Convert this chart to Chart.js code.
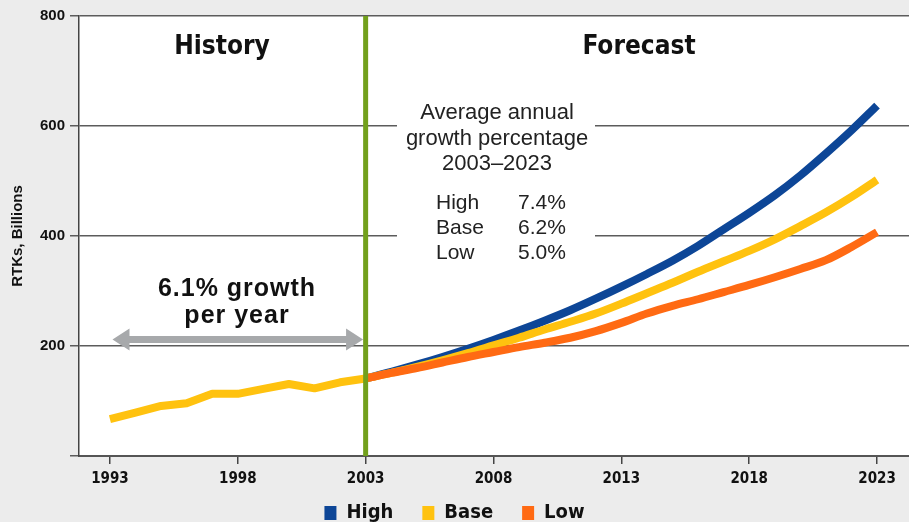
<!DOCTYPE html>
<html>
<head>
<meta charset="utf-8">
<script src="https://cdn.jsdelivr.net/npm/chart.js@4.4.1/dist/chart.umd.min.js"></script>
<style>
  html, body { margin: 0; padding: 0; background: #ececec; overflow: hidden; }
  canvas { display: block; }
</style>
</head>
<body>
<canvas id="myChart" width="909" height="533"></canvas>
<script>
// history 1993-2003, forecast 2003-2023 (RTKs, billions)
var historyYears = [1993, 1994, 1995, 1996, 1997, 1998, 1999, 2000, 2001, 2002, 2003];
var historyValues = [67, 79, 91, 96, 113, 113, 122, 131, 123, 134, 141];

var forecastYears = [2003, 2004, 2005, 2006, 2007, 2008, 2009, 2010, 2011, 2012, 2013,
	2014, 2015, 2016, 2017, 2018, 2019, 2020, 2021, 2022, 2023];
var highValues = [141, 153, 166, 180, 195, 211, 228, 246, 265, 286, 308, 331, 355, 382, 412, 442, 474, 510, 550, 592, 637];
var baseValues = [141, 151, 162, 174, 187, 201, 215, 230, 244, 259, 277, 296, 315, 335, 354, 373, 394, 418, 443, 471, 502];
var lowValues = [141, 151, 160, 170, 180, 189, 198, 206, 215, 227, 242, 259, 273, 285, 298, 311, 325, 340, 356, 380, 407];

var xTicks = [1993, 1998, 2003, 2008, 2013, 2018, 2023];
var yTicks = [0, 200, 400, 600, 800];

var growthRows = [["High", "7.4%"], ["Base", "6.2%"], ["Low", "5.0%"]];

var blue = '#0d4697';
var yellow = '#ffc20f';
var orange = '#ff6a13';
var narrow = '"Liberation Sans Narrow", "DejaVu Sans Condensed", sans-serif';
var sans = '"Liberation Sans", Arial, sans-serif';

function pts(xs, ys) {
	return xs.map(function (x, i) { return { x: x, y: ys[i] }; });
}

var annotate = {
	id: 'annotate',
	beforeDraw: function (chart) {
		var ctx = chart.ctx, a = chart.chartArea;
		ctx.save();
		ctx.fillStyle = '#ececec';
		ctx.fillRect(0, 0, chart.width, chart.height);
		ctx.fillStyle = '#ffffff';
		ctx.fillRect(a.left, a.top, a.right - a.left, a.bottom - a.top);
		ctx.restore();
	},
	beforeDatasetsDraw: function (chart) {
		var ctx = chart.ctx;
		ctx.save();
		ctx.fillStyle = '#ffffff';
		ctx.fillRect(397, 96, 198, 170);
		ctx.restore();
	},
	afterDatasetsDraw: function (chart) {
		var ctx = chart.ctx, a = chart.chartArea;
		var xs = chart.scales.x, ys = chart.scales.y;
		ctx.save();

		// green divider at 2003
		var gx = xs.getPixelForValue(2003);
		ctx.strokeStyle = '#72a01c';
		ctx.lineWidth = 5;
		ctx.beginPath();
		ctx.moveTo(gx, a.top);
		ctx.lineTo(gx, a.bottom);
		ctx.stroke();

		// grey double arrow
		var x1 = xs.getPixelForValue(1993.1), x2 = xs.getPixelForValue(2002.9);
		var ay = ys.getPixelForValue(212);
		var head = 17, hw = 11, sw = 3.5;
		ctx.fillStyle = '#a7a9ab';
		ctx.beginPath();
		ctx.moveTo(x1, ay);
		ctx.lineTo(x1 + head, ay - hw);
		ctx.lineTo(x1 + head, ay - sw);
		ctx.lineTo(x2 - head, ay - sw);
		ctx.lineTo(x2 - head, ay - hw);
		ctx.lineTo(x2, ay);
		ctx.lineTo(x2 - head, ay + hw);
		ctx.lineTo(x2 - head, ay + sw);
		ctx.lineTo(x1 + head, ay + sw);
		ctx.lineTo(x1 + head, ay + hw);
		ctx.closePath();
		ctx.fill();

		ctx.fillStyle = '#111';
		ctx.textAlign = 'center';
		ctx.textBaseline = 'middle';
		ctx.font = 'bold 26px ' + narrow;
		ctx.fillText('History', 222, 47);
		ctx.fillText('Forecast', 639, 47);

		ctx.font = 'bold 25px ' + sans;
		ctx.letterSpacing = '1px';
		ctx.fillText('6.1% growth', 237, 289);
		ctx.fillText('per year', 237, 316);
		ctx.letterSpacing = '0px';

		ctx.font = '22px ' + sans;
		ctx.fillStyle = '#222';
		ctx.fillText('Average annual', 497, 113);
		ctx.fillText('growth percentage', 497, 139);
		ctx.fillText('2003\u20132023', 497, 164);
		ctx.font = '21px ' + sans;
		ctx.textAlign = 'left';
		growthRows.forEach(function (r, i) {
			ctx.fillText(r[0], 436, 203 + i * 25);
			ctx.fillText(r[1], 518, 203 + i * 25);
		});
		ctx.restore();
	}
};

var lineStyle = {
	borderWidth: 8,
	pointRadius: 0,
	borderCapStyle: 'butt',
	fill: false
};

var ctx = document.getElementById('myChart').getContext('2d');
var myChart = new Chart(ctx, {
	type: 'line',
	data: {
		datasets: [
			Object.assign({ label: 'Low', data: pts(forecastYears, lowValues), borderColor: orange, backgroundColor: orange, cubicInterpolationMode: 'monotone' }, lineStyle),
			Object.assign({ label: 'Base', data: pts(forecastYears, baseValues), borderColor: yellow, backgroundColor: yellow, cubicInterpolationMode: 'monotone' }, lineStyle),
			Object.assign({ label: 'High', data: pts(forecastYears, highValues), borderColor: blue, backgroundColor: blue, cubicInterpolationMode: 'monotone' }, lineStyle),
			Object.assign({ label: 'History', data: pts(historyYears, historyValues), borderColor: yellow, backgroundColor: yellow, tension: 0, borderJoinStyle: 'round' }, lineStyle)
		]
	},
	options: {
		responsive: false,
		animation: false,
		devicePixelRatio: 1,
		layout: { padding: { top: 16, left: 0, right: 0, bottom: 0 } },
		plugins: {
			tooltip: { enabled: false },
			legend: {
				position: 'bottom',
				reverse: true,
				labels: {
					filter: function (item) { return item.datasetIndex !== 3; },
					generateLabels: function (chart) {
						var items = Chart.defaults.plugins.legend.labels.generateLabels(chart);
						items.forEach(function (it) {
							it.lineWidth = 0;
							// extra gap after High and Base
							if (it.datasetIndex !== 0) it.text = it.text + '\u2003';
						});
						return items;
					},
					boxWidth: 12,
					boxHeight: 14,
					padding: 11,
					color: '#111',
					font: { family: narrow, size: 20, weight: 'bold' }
				}
			}
		},
		scales: {
			x: {
				type: 'linear',
				min: 1991.79,
				max: 2024.25,
				afterBuildTicks: function (s) { s.ticks = xTicks.map(function (v) { return { value: v }; }); },
				afterFit: function (s) { s.height = 36; },
				grid: { drawOnChartArea: false, drawTicks: true, tickLength: 8, color: '#444', lineWidth: 1.5 },
				border: { display: true, color: '#555', width: 2 },
				ticks: {
					padding: 6,
					maxRotation: 0,
					color: '#111',
					font: { family: narrow, size: 15, weight: 'bold' },
					callback: function (v) { return String(v); }
				}
			},
			y: {
				min: 0,
				max: 800,
				afterBuildTicks: function (s) { s.ticks = yTicks.map(function (v) { return { value: v }; }); },
				afterFit: function (s) { s.width = 79; },
				grid: { color: '#5c5c5c', lineWidth: 1.5, tickLength: 9 },
				border: { display: true, color: '#444', width: 1.5 },
				ticks: {
					padding: 5,
					color: '#111',
					font: { family: sans, size: 15, weight: 'bold' },
					callback: function (v) { return v === 0 ? '' : v; }
				},
				title: {
					display: true,
					text: 'RTKs, Billions',
					color: '#111',
					padding: { top: 9, bottom: 0 },
					font: { family: sans, size: 15, weight: 'bold' }
				}
			}
		}
	},
	plugins: [annotate]
});
</script>
</body>
</html>
